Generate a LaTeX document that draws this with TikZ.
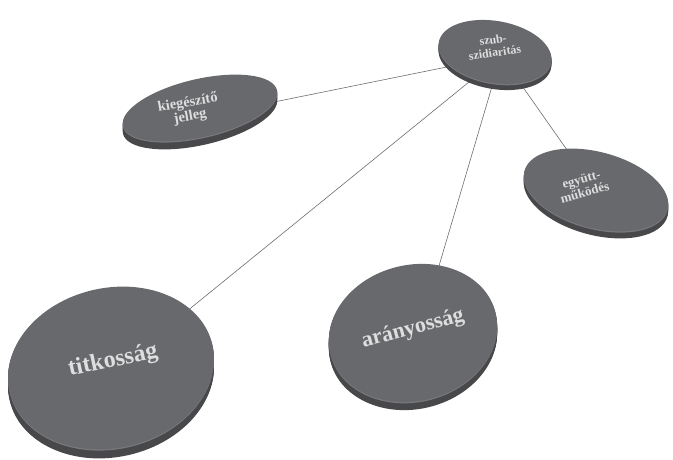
\documentclass[tikz,border=0pt]{standalone}
\usepackage{fontspec}
\setmainfont{Liberation Serif}
\begin{document}
\begin{tikzpicture}[x=1pt,y=-1pt,
  disctop/.style={fill={rgb,255:red,104;green,105;blue,109}},
  discrim/.style={fill={rgb,255:red,120;green,121;blue,125}},
  discside/.style={fill={rgb,255:red,72;green,72;blue,75}},
  link/.style={draw={rgb,255:red,110;green,110;blue,110},line width=0.6pt},
  disclabel/.style={text={rgb,255:red,222;green,222;blue,222},align=center,inner sep=0pt}]

% canvas
\fill[white] (0,0) rectangle (673,460);
\useasboundingbox (0,0) rectangle (673,460);

% disc centres used as connector ends
\coordinate (szub) at (501,56);
\coordinate (kieg) at (200,117);
\coordinate (egyutt) at (598,194);
\coordinate (titk) at (112,372);
\coordinate (arany) at (418,337);

% connectors, drawn beneath the discs
\draw[link] (szub) -- (kieg);
\draw[link] (szub) -- (titk);
\draw[link] (szub) -- (arany);
\draw[link] (szub) -- (egyutt);

% a disc: x, y of the top face, radii, tilt, thickness
\newcommand\drawdisc[6]{%
  \foreach \d in {#6,...,1}{%
    \fill[discside,shift={({#1},{#2+\d})},rotate=#5] (0,0) ellipse [x radius=#3pt,y radius=#4pt];}
  \fill[discrim,shift={({#1},{#2+1.2})},rotate=#5] (0,0) ellipse [x radius=#3pt,y radius=#4pt];
  \fill[disctop,shift={({#1},{#2})},rotate=#5] (0,0) ellipse [x radius=#3pt,y radius=#4pt];
}

\drawdisc{495}{52}{57}{31}{-10}{6}
\drawdisc{200}{108}{79}{29}{13}{8}
\drawdisc{596}{190}{74}{38}{-15}{7}
\drawdisc{111}{368}{104}{80}{13}{9}
\drawdisc{413}{333}{85}{68}{14}{8}

% labels
\node[disclabel,font=\bfseries\fontsize{12}{13}\selectfont,rotate=8] (szubtext) at (494,46) {szub-\\szidiaritás};
\node[disclabel,font=\bfseries\fontsize{14.5}{14}\selectfont,rotate=10] (kiegtext) at (189,110) {kiegészítő\\jelleg};
\node[disclabel,font=\bfseries\fontsize{13}{13.5}\selectfont,rotate=15] (egyutttext) at (583,186) {együtt-\\működés};
\node[disclabel,font=\bfseries\fontsize{24}{24}\selectfont,rotate=12] (titktext) at (113,361) {titkosság};
\node[disclabel,font=\bfseries\fontsize{22}{22}\selectfont,rotate=15] (aranytext) at (413,329) {arányosság};
\end{tikzpicture}
\end{document}
